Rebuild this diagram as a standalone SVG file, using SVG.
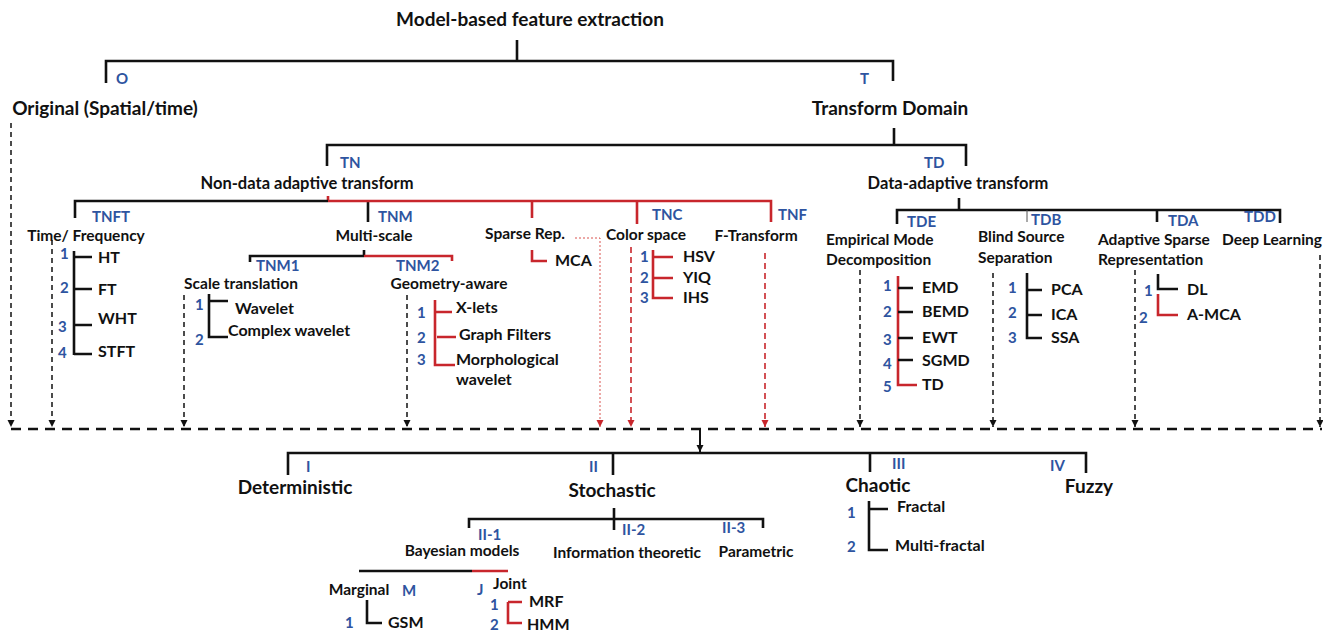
<svg xmlns="http://www.w3.org/2000/svg" width="1323" height="633" viewBox="0 0 1323 633">
<style>
text{font-family:Lato,"Liberation Sans",sans-serif;font-weight:bold;fill:#111}
.bl{fill:#2E54A0;font-size:15px}
.h1{font-size:19px}
.h2{font-size:16.5px}
.h3{font-size:15.5px}
.lf{font-size:16px}
.m{text-anchor:middle}
.k{fill:none;stroke:#111;stroke-width:2.6}
.r{fill:none;stroke:#C8262C;stroke-width:2.6}
.thin{fill:none;stroke:#555;stroke-width:1}
.dk{fill:none;stroke:#111;stroke-width:1.5;stroke-dasharray:5 4;marker-end:url(#ak)}
.dr{fill:none;stroke:#C8262C;stroke-width:1.6;stroke-dasharray:6 4;marker-end:url(#ar)}
.dt{fill:none;stroke:#D9534F;stroke-width:1;stroke-dasharray:2 2;marker-end:url(#ar)}
.big{fill:none;stroke:#111;stroke-width:2.6;stroke-dasharray:10 7}
</style>
<defs>
<marker id="ak" markerUnits="userSpaceOnUse" markerWidth="8" markerHeight="8" refX="7" refY="3.5" orient="auto"><path d="M0,0 L7,3.5 L0,7 z" fill="#111"/></marker>
<marker id="ar" markerUnits="userSpaceOnUse" markerWidth="8" markerHeight="8" refX="7" refY="3.5" orient="auto"><path d="M0,0 L7,3.5 L0,7 z" fill="#C8262C"/></marker>
</defs>
<rect width="1323" height="633" fill="#fff"/>
<g id="connectors">
<path class="k" d="M517,40 V61 M106,83 V61 H893 V81"/>
<path class="k" d="M894,128 V145 M327,166 V145 H966 V166"/>
<path class="r" d="M328,196 V201"/>
<path class="k" d="M75,218 V201 H328 M368,201 V222"/>
<path class="r" d="M328,201 H771 V222 M532,201 V218 M637,201 V224"/>
<path class="k" d="M959,198 V210 M897,224 V210 H1280 V223 M1157,210 V222"/>
<path class="thin" d="M1027,210 V222"/>
<path class="k" d="M364,250 V256 M250,262 V256 H364"/>
<path class="r" d="M364,256 H452 V261"/>
<path class="k" d="M74,251 V355 M74,257 H92 M74,289 H92 M74,325 H92 M74,354 H92"/>
<path class="k" d="M209,294 V337 H228 M209,301 H228"/>
<path class="r" d="M435,300 V365 H455 M435,312 H452 M437,337 H456"/>
<path class="r" d="M532,250 V261 H547"/>
<path class="r" d="M653,250 V298 H673 M653,257 H673 M653,278 H673"/>
<path class="r" d="M898,276 V385 H917"/>
<path class="k" d="M898,288 H913 M898,312 H913 M898,338 H913 M898,360 H913"/>
<path class="k" d="M1027,273 V338 H1042 M1027,290 H1042 M1027,315 H1042"/>
<path class="k" d="M1158,274 V289 H1178"/>
<path class="r" d="M1158,294 V315 H1178"/>
<path class="dk" d="M11,123 V427"/>
<path class="dk" d="M52,240 V427"/>
<path class="dk" d="M184,295 V427"/>
<path class="dk" d="M407,295 V427"/>
<path class="dk" d="M860,270 V427"/>
<path class="dk" d="M993,273 V427"/>
<path class="dk" d="M1135,270 V427"/>
<path class="dk" d="M1320,255 V427"/>
<path class="dr" d="M631,247 V427"/>
<path class="dr" d="M765,253 V427"/>
<path class="dt" d="M575,238 H600 V427"/>
<path class="big" d="M11,429 H1322"/>
<path class="k" d="M700,429 V452" style="stroke-width:2;marker-end:url(#ak)"/>
<path class="k" d="M288,475 V453 H1086 V473 M613,453 V475 M870,453 V472"/>
<path class="k" d="M614,508 V530 M469,528 V519 H763 V528"/>
<path class="k" d="M359,571 H472"/>
<path class="r" d="M472,571 H508"/>
<path class="k" d="M367,600 V623 H382"/>
<path class="r" d="M508,602 V623 H522 M508,602 H522"/>
<path class="k" d="M869,501 V550 H888 M869,509 H888"/>
</g>
<g id="root"><text class="h1 m" x="530" y="26">Model-based feature extraction</text></g>
<g id="O"><text class="bl" x="116" y="84">O</text><text class="h1 m" x="105" y="115">Original (Spatial/time)</text></g>
<g id="T"><text class="bl" x="860" y="84">T</text><text class="h1 m" x="890" y="115">Transform Domain</text></g>
<g id="TN"><text class="bl" x="340" y="168">TN</text><text class="h2 m" x="307" y="189">Non-data adaptive transform</text></g>
<g id="TD"><text class="bl" x="924" y="168">TD</text><text class="h2 m" x="958" y="189">Data-adaptive transform</text></g>
<g id="TNFT"><text class="bl" x="92" y="222">TNFT</text><text class="h3 m" x="86" y="241">Time/ Frequency</text>
<text class="bl" x="60" y="259">1</text><text class="bl" x="60" y="293">2</text><text class="bl" x="58" y="332">3</text><text class="bl" x="58" y="358">4</text>
<text class="lf" x="98" y="263">HT</text><text class="lf" x="98" y="295">FT</text><text class="lf" x="98" y="324">WHT</text><text class="lf" x="98" y="357">STFT</text></g>
<g id="TNM"><text class="bl" x="378" y="222">TNM</text><text class="h3 m" x="374" y="241">Multi-scale</text></g>
<g id="TNM1"><text class="bl" x="256" y="271">TNM1</text><text class="h3 m" x="241" y="289">Scale translation</text>
<text class="bl" x="195" y="310">1</text><text class="bl" x="195" y="345">2</text>
<text class="lf" x="235" y="314">Wavelet</text><text class="lf" x="228" y="336">Complex wavelet</text></g>
<g id="TNM2"><text class="bl" x="396" y="271">TNM2</text><text class="h3 m" x="449" y="289">Geometry-aware</text>
<text class="bl" x="417" y="318">1</text><text class="bl" x="417" y="343">2</text><text class="bl" x="417" y="365">3</text>
<text class="lf" x="456" y="313">X-lets</text><text class="lf" x="459" y="340">Graph Filters</text><text class="lf" x="456" y="365">Morphological</text><text class="lf" x="456" y="385">wavelet</text></g>
<g id="TNS"><text class="h3 m" x="525" y="239">Sparse Rep.</text><text class="lf" x="555" y="266">MCA</text></g>
<g id="TNC"><text class="bl" x="652" y="220">TNC</text><text class="h3 m" x="646" y="240">Color space</text>
<text class="bl" x="640" y="262">1</text><text class="bl" x="640" y="283">2</text><text class="bl" x="640" y="303">3</text>
<text class="lf" x="683" y="262">HSV</text><text class="lf" x="683" y="283">YIQ</text><text class="lf" x="683" y="303">IHS</text></g>
<g id="TNF"><text class="bl" x="778" y="220">TNF</text><text class="h3 m" x="756" y="241">F-Transform</text></g>
<g id="TDE"><text class="bl" x="907" y="227">TDE</text><text class="h3" x="826" y="245">Empirical Mode</text><text class="h3" x="826" y="265">Decomposition</text>
<text class="bl" x="883" y="291">1</text><text class="bl" x="883" y="317">2</text><text class="bl" x="883" y="345">3</text><text class="bl" x="883" y="369">4</text><text class="bl" x="883" y="392">5</text>
<text class="lf" x="922" y="293">EMD</text><text class="lf" x="922" y="317">BEMD</text><text class="lf" x="922" y="343">EWT</text><text class="lf" x="922" y="366">SGMD</text><text class="lf" x="922" y="390">TD</text></g>
<g id="TDB"><text class="bl" x="1031" y="225">TDB</text><text class="h3" x="978" y="242">Blind Source</text><text class="h3" x="978" y="263">Separation</text>
<text class="bl" x="1008" y="293">1</text><text class="bl" x="1008" y="318">2</text><text class="bl" x="1008" y="343">3</text>
<text class="lf" x="1051" y="295">PCA</text><text class="lf" x="1051" y="320">ICA</text><text class="lf" x="1051" y="343">SSA</text></g>
<g id="TDA"><text class="bl" x="1168" y="226">TDA</text><text class="h3" x="1098" y="245">Adaptive Sparse</text><text class="h3" x="1098" y="265">Representation</text>
<text class="bl" x="1144" y="296">1</text><text class="bl" x="1139" y="323">2</text>
<text class="lf" x="1187" y="295">DL</text><text class="lf" x="1187" y="320">A-MCA</text></g>
<g id="TDD"><text class="bl" x="1244" y="222">TDD</text><text class="h3" x="1222" y="245">Deep Learning</text></g>
<g id="I"><text class="bl" x="306" y="472">I</text><text class="h1 m" x="295" y="494">Deterministic</text></g>
<g id="II"><text class="bl" x="589" y="472">II</text><text class="h1 m" x="612" y="497">Stochastic</text></g>
<g id="III"><text class="bl" x="892" y="469">III</text><text class="h1 m" x="878" y="492">Chaotic</text>
<text class="bl" x="847" y="518">1</text><text class="bl" x="847" y="552">2</text>
<text class="lf" x="897" y="512">Fractal</text><text class="lf" x="895" y="551">Multi-fractal</text></g>
<g id="IV"><text class="bl" x="1050" y="471">IV</text><text class="h1 m" x="1089" y="493">Fuzzy</text></g>
<g id="II-1"><text class="bl" x="478" y="540">II-1</text><text class="h3 m" x="462" y="556">Bayesian models</text></g>
<g id="II-2"><text class="bl" x="622" y="535">II-2</text><text class="h3 m" x="627" y="558">Information theoretic</text></g>
<g id="II-3"><text class="bl" x="722" y="533">II-3</text><text class="h3 m" x="756" y="557">Parametric</text></g>
<g id="M"><text class="h3 m" x="359" y="595">Marginal</text><text class="bl" x="402" y="596">M</text>
<text class="bl" x="345" y="628">1</text><text class="lf" x="388" y="628">GSM</text></g>
<g id="J"><text class="bl" x="477" y="595">J</text><text class="h3" x="493" y="589">Joint</text>
<text class="bl" x="490" y="610">1</text><text class="bl" x="490" y="630">2</text>
<text class="lf" x="529" y="607">MRF</text><text class="lf" x="527" y="630">HMM</text></g>
</svg>
